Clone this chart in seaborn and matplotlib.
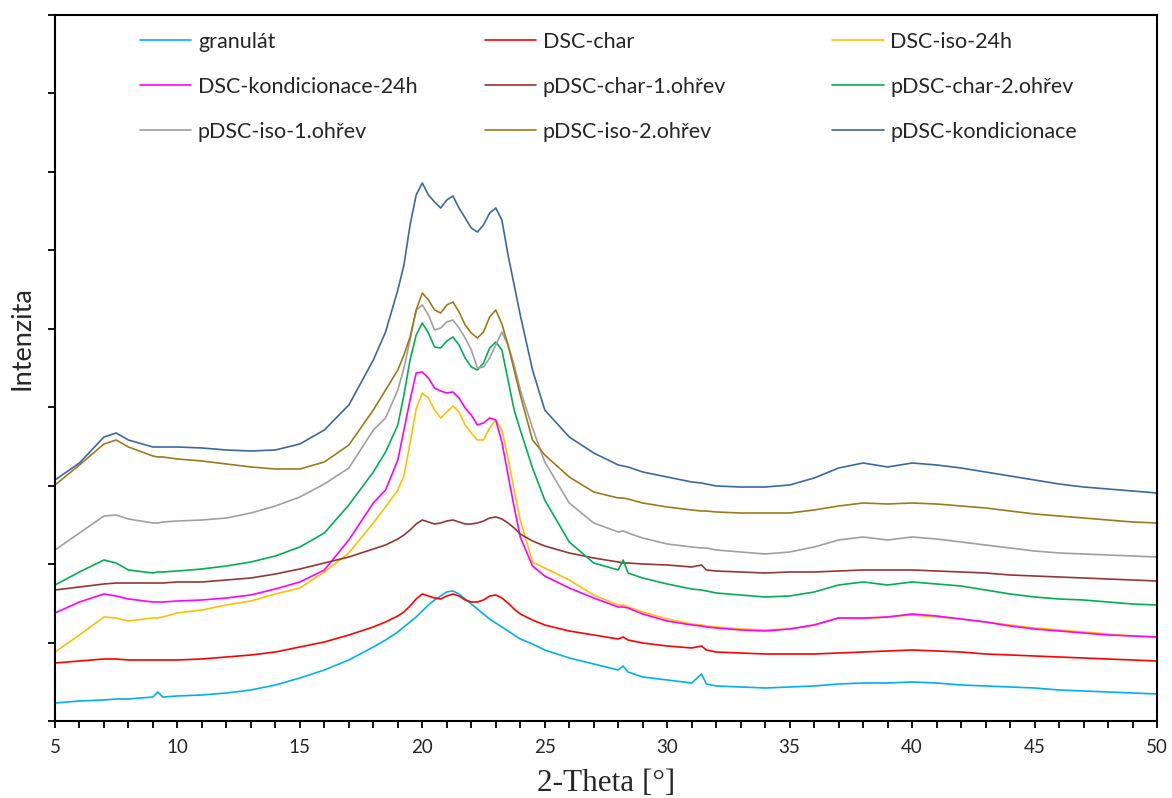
import numpy as np
import pandas as pd
import matplotlib
matplotlib.use("Agg")
import matplotlib.pyplot as plt
from matplotlib.ticker import MultipleLocator
import seaborn as sns

# 2-theta grid (deg)
two_theta = [5, 6, 7, 7.5, 8, 9, 9.2, 9.4, 10, 11,
             12, 13, 14, 15, 16, 17, 18, 18.5, 19, 19.25,
             19.5, 19.75, 20, 20.25, 20.5, 20.75, 21, 21.25, 21.5, 21.75,
             22, 22.25, 22.5, 22.75, 23, 23.25, 23.5, 23.75, 24, 24.5,
             25, 26, 27, 28, 28.2, 28.4, 29, 30, 31, 31.4,
             31.6, 32, 33, 34, 35, 36, 37, 38, 39, 40,
             41, 42, 43, 44, 45, 46, 47, 48, 49, 50]

# intensities (arbitrary units, offset curves as in the original)
granulat = [18, 20, 21, 22, 22, 24, 29, 24, 25, 26,
            28, 31, 36, 43, 51, 61, 74, 81, 89, 94,
            99, 104, 110, 116, 121, 125, 129, 130, 127, 122,
            117, 112, 107, 102, 98, 94, 90, 86, 82, 77,
            71, 63, 57, 51, 55, 49, 44, 41, 38, 47,
            37, 35, 34, 33, 34, 35, 37, 38, 38, 39,
            38, 36, 35, 34, 33, 31, 30, 29, 28, 27]
dsc_char = [58, 60, 62, 62, 61, 61, 61, 61, 61, 62,
            64, 66, 69, 74, 79, 86, 94, 99, 105, 109,
            115, 122, 127, 125, 123, 122, 125, 127, 125, 121,
            119, 119, 121, 125, 126, 123, 118, 112, 107, 101,
            96, 90, 86, 82, 84, 81, 78, 75, 73, 75,
            71, 69, 68, 67, 67, 67, 68, 69, 70, 71,
            70, 69, 67, 66, 65, 64, 63, 62, 61, 60]
dsc_iso = [69, 86, 104, 103, 100, 103, 103, 104, 108, 111,
           116, 120, 127, 133, 149, 168, 198, 214, 231, 245,
           278, 312, 328, 323, 311, 303, 309, 315, 309, 296,
           288, 281, 281, 293, 301, 291, 263, 231, 201, 159,
           153, 141, 126, 116, 116, 114, 109, 102, 97, 96,
           95, 94, 92, 91, 92, 96, 103, 102, 104, 106,
           104, 102, 99, 96, 93, 91, 89, 87, 85, 84]
dsc_kond = [108, 119, 127, 125, 122, 119, 119, 119, 120, 121,
            123, 126, 132, 139, 151, 181, 218, 231, 261, 291,
            321, 348, 349, 343, 333, 330, 328, 329, 323, 313,
            306, 296, 298, 303, 301, 279, 246, 214, 184, 155,
            145, 133, 123, 114, 114, 113, 107, 100, 96, 95,
            94, 93, 91, 90, 92, 96, 103, 103, 104, 107,
            105, 102, 99, 95, 92, 90, 88, 86, 85, 84]
pdsc_char1 = [131, 134, 137, 138, 138, 138, 138, 138, 139, 139,
              141, 143, 147, 152, 158, 164, 172, 176, 182, 186,
              191, 197, 201, 199, 197, 198, 200, 201, 199, 197,
              197, 198, 200, 203, 204, 202, 198, 193, 187, 180,
              175, 168, 163, 159, 158, 158, 157, 156, 154, 156,
              151, 150, 149, 148, 149, 149, 150, 151, 151, 151,
              150, 149, 148, 146, 145, 144, 143, 142, 141, 140]
pdsc_char2 = [136, 149, 161, 158, 151, 148, 149, 149, 150, 152,
              155, 159, 165, 174, 188, 216, 249, 269, 296, 326,
              361, 386, 398, 388, 374, 373, 380, 384, 376, 363,
              354, 351, 358, 373, 379, 371, 341, 311, 291, 253,
              221, 179, 158, 151, 161, 148, 143, 137, 132, 131,
              130, 128, 126, 124, 125, 129, 136, 139, 136, 139,
              137, 135, 131, 127, 124, 122, 121, 119, 117, 116]
pdsc_iso1 = [171, 188, 205, 206, 202, 198, 198, 199, 200, 201,
             203, 208, 215, 224, 237, 253, 291, 303, 331, 353,
             381, 411, 416, 406, 391, 393, 399, 401, 393, 383,
             371, 353, 354, 363, 376, 389, 376, 356, 331, 293,
             259, 218, 198, 189, 190, 188, 183, 177, 174, 173,
             173, 171, 169, 167, 169, 174, 181, 184, 181, 184,
             182, 179, 176, 173, 170, 168, 167, 166, 165, 164]
pdsc_iso2 = [236, 256, 277, 281, 274, 265, 264, 264, 262, 260,
             257, 254, 252, 252, 259, 276, 311, 331, 351, 366,
             384, 411, 428, 421, 411, 408, 416, 419, 409, 396,
             388, 383, 389, 404, 411, 397, 376, 351, 326, 281,
             266, 244, 229, 223, 223, 222, 218, 214, 211, 210,
             210, 209, 208, 208, 208, 211, 215, 218, 217, 218,
             217, 215, 213, 210, 207, 205, 203, 201, 199, 198]
pdsc_kond = [241, 258, 284, 288, 281, 274, 274, 274, 274, 273,
             271, 270, 271, 277, 291, 316, 361, 389, 431, 456,
             496, 526, 538, 526, 519, 513, 521, 525, 513, 503,
             493, 489, 496, 508, 513, 501, 466, 436, 406, 351,
             311, 284, 268, 256, 255, 254, 249, 244, 239, 238,
             237, 235, 234, 234, 236, 243, 253, 258, 254, 258,
             256, 253, 249, 245, 241, 237, 234, 232, 230, 228]

labels = ["granulát", "DSC-char", "DSC-iso-24h", "DSC-kondicionace-24h",
          "pDSC-char-1.ohřev", "pDSC-char-2.ohřev", "pDSC-iso-1.ohřev",
          "pDSC-iso-2.ohřev", "pDSC-kondicionace"]
series = [granulat, dsc_char, dsc_iso, dsc_kond, pdsc_char1, pdsc_char2,
          pdsc_iso1, pdsc_iso2, pdsc_kond]
colors = ["#00B0F0", "#FF0000", "#FFC000", "#FF00FF", "#943634",
          "#00B050", "#A0A0A0", "#9C7B1B", "#3B68A3"]

df = pd.concat([pd.DataFrame({"x": two_theta, "y": s, "vzorek": lab})
                for lab, s in zip(labels, series)], ignore_index=True)

sns.set_theme(style="ticks")
plt.rcParams["font.family"] = ["Lato", "DejaVu Sans"]

fig = plt.figure(figsize=(11.72, 7.98), dpi=100)
ax = fig.add_axes([0.0469, 0.0965, 0.9403, 0.8847])

sns.lineplot(data=df, x="x", y="y", hue="vzorek", hue_order=labels,
             palette=dict(zip(labels, colors)), estimator=None, sort=False,
             linewidth=1.2, legend=False, ax=ax)

ax.set_xlim(5, 50)
ax.set_ylim(0, 706)
ax.xaxis.set_major_locator(MultipleLocator(5))
ax.xaxis.set_minor_locator(MultipleLocator(1))
ax.set_yticks(np.linspace(0, 706, 10))
ax.set_yticklabels([])
ax.tick_params(axis="both", which="both", direction="out", length=5,
               width=1.3, color="black")
ax.tick_params(axis="x", labelsize=13.5, pad=8)
for sp in ax.spines.values():
    sp.set_visible(True)
    sp.set_linewidth(1.5)
    sp.set_color("black")

ax.set_xlabel("2-Theta [°]", fontsize=22.5, family=["Liberation Serif", "DejaVu Serif"],
              labelpad=9)
ax.set_ylabel("Intenzita", fontsize=19.5)
ax.yaxis.set_label_coords(-0.019, 0.5425)

# legend: three separate columns laid out row by row like the original
cols = [labels[0::3], labels[1::3], labels[2::3]]
xs = [0.077, 0.390, 0.705]
for i, (col, x0) in enumerate(zip(cols, xs)):
    hs = [plt.Line2D([], [], color=colors[labels.index(c)], lw=1.2) for c in col]
    leg = ax.legend(hs, col, loc="upper left", bbox_to_anchor=(x0, 0.976),
                    frameon=False, fontsize=15.5, borderpad=0, borderaxespad=0,
                    handlelength=2.4, handletextpad=0.3, labelspacing=1.16)
    if i < 2:
        ax.add_artist(leg)

fig.savefig("out.png", dpi=100)
